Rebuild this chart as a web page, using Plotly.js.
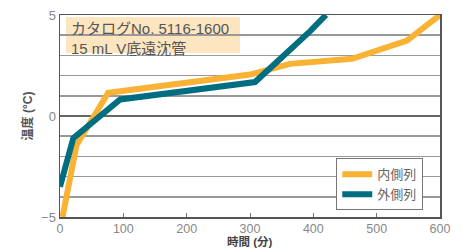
<!DOCTYPE html>
<html>
<head>
<meta charset="utf-8">
<script src="https://cdn.plot.ly/plotly-3.0.1.min.js"></script>
<style>html,body{margin:0;padding:0;background:#fff;}#chart{width:466px;height:248px;}</style>
</head>
<body>
<div id="chart"></div>
<script>
// Data
const innerTime = [4, 26, 76, 170, 300, 363, 461, 548, 600];
const innerTemp = [-5, -1.45, 1.15, 1.55, 2.05, 2.58, 2.83, 3.73, 5];
const outerTime = [0, 21, 95, 200, 308, 395, 420];
const outerTemp = [-3.5, -1.1, 0.82, 1.25, 1.68, 4.2, 5];
const innerName = '内側列';
const outerName = '外側列';
const yTickVals = [-5, -4, -3, -2, -1, 0, 1, 2, 3, 4, 5];
const yTickText = ['−5', '', '', '', '', '0', '', '', '', '', '5'];
const xTickVals = [0, 100, 200, 300, 400, 500, 600];
const noteLines = ['カタログNo. 5116-1600', '15 mL V底遠沈管'];
const xTitle = '時間 (分)';
const yTitle = '温度 (°C)';

const FONT = '"Liberation Sans", Arial, "Noto Sans CJK JP", sans-serif';

const traces = [
  {x: innerTime, y: innerTemp, name: innerName, mode: 'lines',
   line: {color: '#F9B233', width: 6}},
  {x: outerTime, y: outerTemp, name: outerName, mode: 'lines',
   line: {color: '#006E80', width: 6}}
];

const layout = {
  width: 466, height: 248,
  margin: {l: 60, r: 26, t: 15, b: 31},
  paper_bgcolor: '#fff', plot_bgcolor: '#fff',
  font: {family: FONT, color: '#777', size: 13},
  showlegend: true,
  legend: {x: 0.727, y: 0.29, xanchor: 'left', yanchor: 'top',
    bgcolor: '#fff', bordercolor: '#777', borderwidth: 1,
    font: {size: 13, color: '#666'}, tracegroupgap: 2, itemwidth: 30},
  xaxis: {range: [0, 600], tickvals: xTickVals, ticks: 'inside', ticklen: 4,
    tickcolor: '#777', showgrid: false, zeroline: false,
    showline: true, linecolor: '#555', linewidth: 1.5, mirror: true,
    ticklabelstandoff: -1,
    tickfont: {size: 12.5, color: '#888'}},
  yaxis: {range: [-5, 5], tickvals: yTickVals, ticktext: yTickText, ticks: '',
    showgrid: true, gridcolor: '#999', gridwidth: 1.5,
    zeroline: true, zerolinecolor: '#666', zerolinewidth: 1.5,
    showline: true, linecolor: '#555', linewidth: 1.5, mirror: true,
    tickfont: {size: 13, color: '#888'},
    title: {text: yTitle, standoff: 6, font: {size: 12, color: '#555', weight: 'bold'}}},
  shapes: [
    {type: 'rect', xref: 'paper', yref: 'paper', x0: (66-60)/380, x1: (240-60)/380,
     y0: (216.5-53)/201.5, y1: (216.5-17)/201.5, fillcolor: '#FDE5BF', line: {width: 0}, layer: 'below'}
  ],
  annotations: [
    {xref: 'paper', yref: 'paper', x: (69-60)/380, y: (216.5-18)/201.5, xanchor: 'left', yanchor: 'top',
     align: 'left', showarrow: false, text: noteLines.join('<br>'),
     font: {size: 15, color: '#555'}},
    {xref: 'paper', yref: 'paper', x: 0.5, y: -(248.5 - 216.5)/201.5, xanchor: 'center', yanchor: 'bottom',
     showarrow: false, text: '<b>' + xTitle + '</b>', borderpad: 0,
     font: {size: 11.5, color: '#444'}}
  ]
};

Plotly.newPlot('chart', traces, layout, {displayModeBar: false, staticPlot: true});
</script>
</body>
</html>
